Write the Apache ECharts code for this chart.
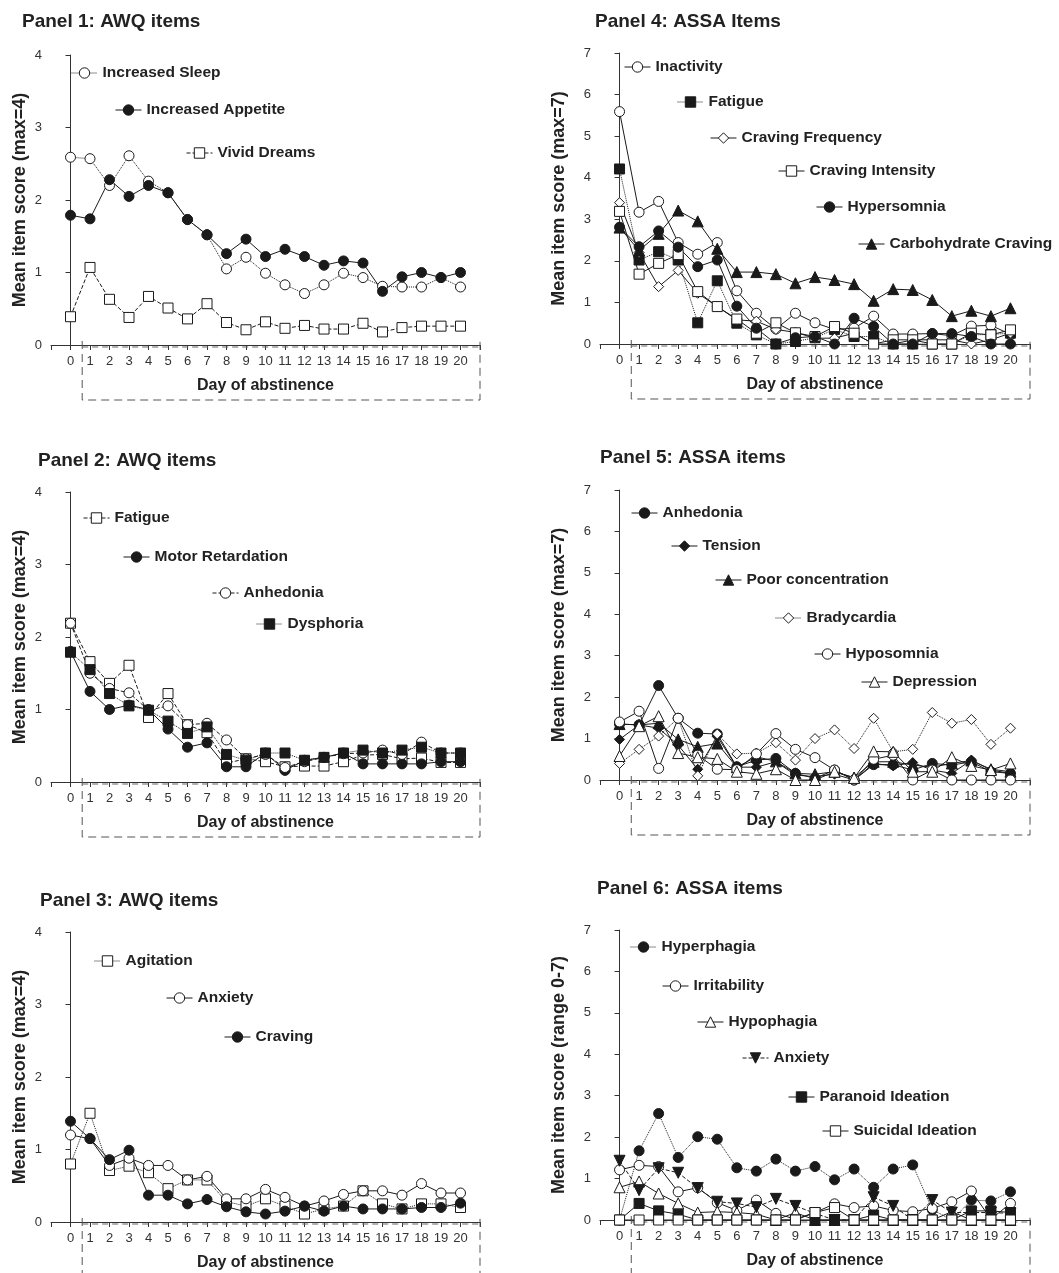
<!DOCTYPE html>
<html>
<head>
<meta charset="utf-8">
<title>Item scores by day of abstinence</title>
<script src="https://cdn.jsdelivr.net/npm/echarts@6/dist/echarts.min.js"></script>
<style>
html, body { margin: 0; padding: 0; background: #fff; }
#chart { width: 1059px; height: 1273px; }
</style>
</head>
<body>
<div id="chart"></div>
<script>
var days = [0, 1, 2, 3, 4, 5, 6, 7, 8, 9, 10, 11, 12, 13, 14, 15, 16, 17, 18, 19, 20];

// Panel 1: AWQ items
var p1IncreasedSleep    = [2.59, 2.57, 2.20, 2.61, 2.26, 2.10, 1.73, 1.52, 1.05, 1.21, 0.99, 0.83, 0.71, 0.83, 0.99, 0.93, 0.81, 0.80, 0.80, 0.93, 0.80];
var p1IncreasedAppetite = [1.79, 1.74, 2.28, 2.05, 2.20, 2.10, 1.73, 1.52, 1.26, 1.46, 1.22, 1.32, 1.22, 1.10, 1.16, 1.13, 0.74, 0.94, 1.00, 0.93, 1.00];
var p1VividDreams       = [0.39, 1.07, 0.63, 0.38, 0.67, 0.51, 0.36, 0.57, 0.31, 0.21, 0.32, 0.23, 0.27, 0.22, 0.22, 0.30, 0.18, 0.24, 0.26, 0.26, 0.26];

// Panel 2: AWQ items
var p2Fatigue           = [2.19, 1.66, 1.36, 1.61, 0.89, 1.22, 0.79, 0.68, 0.26, 0.32, 0.28, 0.21, 0.22, 0.22, 0.28, 0.37, 0.38, 0.32, 0.33, 0.27, 0.27];
var p2MotorRetardation  = [1.80, 1.25, 1.00, 1.06, 1.00, 0.73, 0.48, 0.54, 0.21, 0.21, 0.40, 0.16, 0.30, 0.34, 0.40, 0.25, 0.25, 0.25, 0.25, 0.28, 0.28];
var p2Anhedonia         = [2.19, 1.50, 1.29, 1.23, 0.99, 1.05, 0.79, 0.81, 0.58, 0.32, 0.38, 0.20, 0.28, 0.34, 0.39, 0.40, 0.44, 0.38, 0.55, 0.40, 0.40];
var p2Dysphoria         = [1.79, 1.55, 1.22, 1.05, 0.99, 0.84, 0.67, 0.76, 0.38, 0.30, 0.40, 0.40, 0.30, 0.34, 0.40, 0.44, 0.40, 0.44, 0.48, 0.40, 0.40];

// Panel 3: AWQ items
var p3Agitation         = [0.80, 1.50, 0.71, 0.77, 0.68, 0.46, 0.58, 0.58, 0.28, 0.22, 0.32, 0.22, 0.11, 0.18, 0.22, 0.43, 0.25, 0.18, 0.25, 0.25, 0.20];
var p3Anxiety           = [1.20, 1.15, 0.78, 0.88, 0.78, 0.78, 0.58, 0.63, 0.32, 0.32, 0.45, 0.34, 0.22, 0.29, 0.38, 0.43, 0.43, 0.37, 0.53, 0.40, 0.40];
var p3Craving           = [1.39, 1.15, 0.86, 0.99, 0.37, 0.37, 0.25, 0.31, 0.21, 0.14, 0.11, 0.15, 0.22, 0.15, 0.22, 0.18, 0.18, 0.18, 0.20, 0.20, 0.26];

// Panel 4: ASSA items
var p4Inactivity           = [5.59, 3.17, 3.43, 2.44, 2.16, 2.44, 1.28, 0.74, 0.36, 0.74, 0.51, 0.35, 0.38, 0.67, 0.24, 0.24, 0.25, 0.20, 0.43, 0.45, 0.23];
var p4Fatigue              = [4.21, 2.02, 2.22, 2.02, 0.51, 1.52, 0.50, 0.22, 0.00, 0.06, 0.15, 0.35, 0.18, 0.18, 0.00, 0.00, 0.00, 0.00, 0.22, 0.23, 0.26];
var p4CravingFrequency     = [3.40, 2.20, 1.38, 1.77, 1.22, 0.90, 0.58, 0.55, 0.35, 0.28, 0.14, 0.14, 0.26, 0.00, 0.00, 0.10, 0.10, 0.10, 0.00, 0.10, 0.26];
var p4CravingIntensity     = [3.19, 1.68, 1.94, 2.15, 1.26, 0.90, 0.60, 0.26, 0.51, 0.27, 0.18, 0.42, 0.26, 0.00, 0.10, 0.10, 0.00, 0.00, 0.26, 0.22, 0.34];
var p4Hypersomnia          = [2.81, 2.34, 2.72, 2.33, 1.86, 2.02, 0.91, 0.38, 0.00, 0.15, 0.18, 0.00, 0.62, 0.42, 0.00, 0.00, 0.25, 0.25, 0.18, 0.00, 0.00];
var p4CarbohydrateCraving  = [2.80, 2.25, 2.65, 3.21, 2.95, 2.29, 1.73, 1.73, 1.68, 1.46, 1.61, 1.54, 1.44, 1.04, 1.32, 1.30, 1.06, 0.67, 0.80, 0.67, 0.86];

// Panel 5: ASSA items
var p5Anhedonia         = [1.35, 1.33, 2.28, 1.49, 1.13, 1.11, 0.32, 0.48, 0.52, 0.16, 0.04, 0.24, 0.00, 0.37, 0.37, 0.24, 0.40, 0.36, 0.44, 0.20, 0.16];
var p5Tension           = [0.98, 1.33, 1.25, 0.84, 0.26, 1.05, 0.31, 0.31, 0.44, 0.12, 0.08, 0.14, 0.00, 0.40, 0.34, 0.42, 0.24, 0.16, 0.48, 0.24, 0.16];
var p5PoorConcentration = [1.35, 1.33, 1.37, 0.98, 0.80, 0.88, 0.31, 0.56, 0.45, 0.16, 0.14, 0.20, 0.06, 0.44, 0.44, 0.36, 0.31, 0.40, 0.47, 0.26, 0.20];
var p5Bradycardia       = [0.40, 0.74, 1.06, 1.49, 0.10, 1.11, 0.63, 0.65, 0.90, 0.48, 1.00, 1.21, 0.76, 1.49, 0.68, 0.74, 1.63, 1.37, 1.46, 0.86, 1.25];
var p5Hyposomnia        = [1.40, 1.66, 0.28, 1.49, 0.60, 0.26, 0.25, 0.63, 1.12, 0.74, 0.54, 0.24, 0.00, 0.50, 0.60, 0.00, 0.24, 0.00, 0.00, 0.00, 0.00];
var p5Depression        = [0.58, 1.30, 1.54, 0.65, 0.55, 0.51, 0.20, 0.15, 0.26, 0.00, 0.00, 0.20, 0.05, 0.69, 0.68, 0.20, 0.20, 0.55, 0.34, 0.24, 0.40];

// Panel 6: ASSA items
var p6Hyperphagia       = [0.00, 1.67, 2.57, 1.51, 2.01, 1.95, 1.26, 1.18, 1.47, 1.18, 1.29, 0.97, 1.23, 0.79, 1.23, 1.33, 0.25, 0.00, 0.48, 0.46, 0.68];
var p6Irritability      = [1.21, 1.32, 1.29, 0.68, 0.78, 0.42, 0.23, 0.48, 0.16, 0.02, 0.18, 0.39, 0.30, 0.34, 0.23, 0.20, 0.28, 0.44, 0.70, 0.02, 0.40];
var p6Hypophagia        = [0.79, 0.93, 0.64, 0.40, 0.18, 0.20, 0.18, 0.14, 0.00, 0.18, 0.00, 0.00, 0.00, 0.00, 0.00, 0.00, 0.00, 0.20, 0.00, 0.00, 0.00];
var p6Anxiety           = [1.43, 0.72, 1.25, 1.14, 0.77, 0.44, 0.40, 0.31, 0.51, 0.34, 0.16, 0.00, 0.00, 0.55, 0.34, 0.00, 0.48, 0.18, 0.18, 0.18, 0.16];
var p6ParanoidIdeation  = [0.00, 0.40, 0.22, 0.14, 0.00, 0.00, 0.00, 0.00, 0.00, 0.00, 0.00, 0.00, 0.00, 0.12, 0.00, 0.00, 0.00, 0.00, 0.22, 0.22, 0.18];
var p6SuicidalIdeation  = [0.00, 0.00, 0.00, 0.00, 0.00, 0.00, 0.00, 0.00, 0.00, 0.00, 0.18, 0.30, 0.00, 0.00, 0.00, 0.00, 0.00, 0.00, 0.00, 0.00, 0.00];

var FONT = '"Liberation Sans", Arial, Helvetica, sans-serif';
var INK = '#1a1a1a';
var AXIS = '#333';

// layout: grid = [left, top, width, height]; key = [text x, text middle y]
var panels = [
  { title: 'Panel 1: AWQ items', titleAt: [22, 12], grid: [51, 55, 429, 290], yMax: 4,
    yName: 'Mean item score (max=4)', yGap: 22,
    items: [
      { name: 'Increased Sleep', data: p1IncreasedSleep, symbol: 'circle', open: true, line: 'dotted', key: [102, 73] },
      { name: 'Increased Appetite', data: p1IncreasedAppetite, symbol: 'circle', open: false, line: 'solid', key: [146, 110] },
      { name: 'Vivid Dreams', data: p1VividDreams, symbol: 'rect', open: true, line: 'dashed', key: [217, 153] }
    ] },
  { title: 'Panel 2: AWQ items', titleAt: [38, 451], grid: [51, 492, 429, 290], yMax: 4,
    yName: 'Mean item score (max=4)', yGap: 22,
    items: [
      { name: 'Fatigue', data: p2Fatigue, symbol: 'rect', open: true, line: 'dashed', key: [114, 518] },
      { name: 'Motor Retardation', data: p2MotorRetardation, symbol: 'circle', open: false, line: 'solid', key: [154, 557] },
      { name: 'Anhedonia', data: p2Anhedonia, symbol: 'circle', open: true, line: 'dashed', key: [243, 593] },
      { name: 'Dysphoria', data: p2Dysphoria, symbol: 'rect', open: false, line: 'dotted', key: [287, 624] }
    ] },
  { title: 'Panel 3: AWQ items', titleAt: [40, 891], grid: [51, 932, 429, 290], yMax: 4,
    yName: 'Mean item score (max=4)', yGap: 22,
    items: [
      { name: 'Agitation', data: p3Agitation, symbol: 'rect', open: true, line: 'dotted', key: [125, 961] },
      { name: 'Anxiety', data: p3Anxiety, symbol: 'circle', open: true, line: 'solid', key: [197, 998] },
      { name: 'Craving', data: p3Craving, symbol: 'circle', open: false, line: 'solid', key: [255, 1037] }
    ] },
  { title: 'Panel 4: ASSA Items', titleAt: [595, 12], grid: [600, 53, 430, 291], yMax: 7,
    yName: 'Mean item score (max=7)', yGap: 32,
    items: [
      { name: 'Inactivity', data: p4Inactivity, symbol: 'circle', open: true, line: 'solid', key: [655, 67] },
      { name: 'Fatigue', data: p4Fatigue, symbol: 'rect', open: false, line: 'dotted', key: [708, 102] },
      { name: 'Craving Frequency', data: p4CravingFrequency, symbol: 'diamond', open: true, line: 'solid', key: [741, 138] },
      { name: 'Craving Intensity', data: p4CravingIntensity, symbol: 'rect', open: true, line: 'solid', key: [809, 171] },
      { name: 'Hypersomnia', data: p4Hypersomnia, symbol: 'circle', open: false, line: 'solid', key: [847, 207] },
      { name: 'Carbohydrate Craving', data: p4CarbohydrateCraving, symbol: 'triangle', open: false, line: 'solid', key: [889, 244] }
    ] },
  { title: 'Panel 5: ASSA items', titleAt: [600, 448], grid: [600, 490, 430, 290], yMax: 7,
    yName: 'Mean item score (max=7)', yGap: 32,
    items: [
      { name: 'Anhedonia', data: p5Anhedonia, symbol: 'circle', open: false, line: 'solid', key: [662, 513] },
      { name: 'Tension', data: p5Tension, symbol: 'diamond', open: false, line: 'solid', key: [702, 546] },
      { name: 'Poor concentration', data: p5PoorConcentration, symbol: 'triangle', open: false, line: 'solid', key: [746, 580] },
      { name: 'Bradycardia', data: p5Bradycardia, symbol: 'diamond', open: true, line: 'dotted', key: [806, 618] },
      { name: 'Hyposomnia', data: p5Hyposomnia, symbol: 'circle', open: true, line: 'solid', key: [845, 654] },
      { name: 'Depression', data: p5Depression, symbol: 'triangle', open: true, line: 'solid', key: [892, 682] }
    ] },
  { title: 'Panel 6: ASSA items', titleAt: [597, 879], grid: [600, 930, 430, 290], yMax: 7,
    yName: 'Mean item score (range 0-7)', yGap: 32,
    items: [
      { name: 'Hyperphagia', data: p6Hyperphagia, symbol: 'circle', open: false, line: 'dotted', key: [661, 947] },
      { name: 'Irritability', data: p6Irritability, symbol: 'circle', open: true, line: 'solid', key: [693, 986] },
      { name: 'Hypophagia', data: p6Hypophagia, symbol: 'triangle', open: true, line: 'solid', key: [728, 1022] },
      { name: 'Anxiety', data: p6Anxiety, symbol: 'triangle', rotate: 180, open: false, line: 'dashed', key: [773, 1058] },
      { name: 'Paranoid Ideation', data: p6ParanoidIdeation, symbol: 'rect', open: false, line: 'solid', key: [819, 1097] },
      { name: 'Suicidal Ideation', data: p6SuicidalIdeation, symbol: 'rect', open: true, line: 'solid', key: [853, 1131] }
    ] }
];

var chart = echarts.init(document.getElementById('chart'));

var titles = [], grids = [], xAxes = [], yAxes = [], legends = [], series = [];
var KEY_W = 26;

panels.forEach(function (p, i) {
  titles.push({
    text: p.title, left: p.titleAt[0], top: p.titleAt[1], padding: 0,
    textStyle: { fontFamily: FONT, fontSize: 19, fontWeight: 'bold', color: '#222' }
  });
  grids.push({ left: p.grid[0], top: p.grid[1], width: p.grid[2], height: p.grid[3] });
  xAxes.push({
    gridIndex: i, type: 'value', min: -1, max: 21, interval: 1,
    name: 'Day of abstinence', nameLocation: 'middle', nameGap: 33,
    nameTextStyle: { fontFamily: FONT, fontSize: 16, fontWeight: 'bold', color: '#222' },
    axisLine: { onZero: false, lineStyle: { color: AXIS, width: 1 } },
    axisTick: { length: 5, lineStyle: { color: AXIS } },
    axisLabel: {
      margin: 10, fontFamily: FONT, fontSize: 13, color: '#333',
      formatter: function (v) { return (v < 0 || v > 20) ? '' : String(v); }
    },
    splitLine: { show: false }
  });
  yAxes.push({
    gridIndex: i, type: 'value', min: 0, max: p.yMax, interval: 1,
    name: p.yName, nameLocation: 'middle', nameGap: p.yGap,
    nameTextStyle: { fontFamily: FONT, fontSize: 18, fontWeight: 'bold', color: '#222' },
    axisLine: { show: true, lineStyle: { color: AXIS, width: 1 } },
    axisTick: { show: true, length: 5, lineStyle: { color: AXIS } },
    axisLabel: { margin: 9, fontFamily: FONT, fontSize: 13, color: '#333' },
    splitLine: { show: false }
  });

  p.items.forEach(function (it) {
    var sname = 'p' + (i + 1) + '|' + it.name;
    series.push({
      name: sname, type: 'line', xAxisIndex: i, yAxisIndex: i,
      data: days.map(function (d, k) { return [d, it.data[k]]; }),
      symbol: it.symbol, symbolSize: it.symbol === 'triangle' ? 11 : 10,
      symbolRotate: it.rotate || 0,
      showAllSymbol: true,
      lineStyle: { color: INK, width: 1, type: it.line },
      itemStyle: { color: it.open ? '#fff' : INK, borderColor: INK, borderWidth: 1 },
      emphasis: { disabled: true },
      animation: false
    });
    legends.push({
      data: [sname], left: it.key[0] - KEY_W - 5, top: it.key[1] - 8,
      padding: 0, itemWidth: KEY_W, itemHeight: 13, selectedMode: false,
      itemStyle: { borderWidth: 1 },
      lineStyle: { width: 1 },
      formatter: function (n) { return n.split('|')[1]; },
      textStyle: { fontFamily: FONT, fontSize: 15.5, fontWeight: 'bold', color: '#222' }
    });
  });
});

chart.setOption({
  backgroundColor: '#fff',
  animation: false,
  title: titles,
  grid: grids,
  xAxis: xAxes,
  yAxis: yAxes,
  legend: legends,
  series: series
});

// dashed bracket under each axis marking the abstinence days
var bracket = [];
panels.forEach(function (p, i) {
  var a = chart.convertToPixel({ gridIndex: i }, [0.6, 0]);
  var b = chart.convertToPixel({ gridIndex: i }, [21, 0]);
  var depth = 55;
  bracket.push({
    type: 'polyline', silent: true, z: 1,
    shape: { points: [[a[0], a[1] - 4], [a[0], a[1] + depth], [b[0], b[1] + depth], [b[0], b[1] - 4]] },
    style: { stroke: '#555', lineWidth: 1, lineDash: [8, 5], fill: null }
  });
  bracket.push({
    type: 'line', silent: true, z: 1,
    shape: { x1: a[0], y1: a[1] + 2, x2: b[0], y2: b[1] + 2 },
    style: { stroke: '#666', lineWidth: 1, lineDash: [6, 4] }
  });
});
chart.setOption({ graphic: bracket });
</script>
</body>
</html>
